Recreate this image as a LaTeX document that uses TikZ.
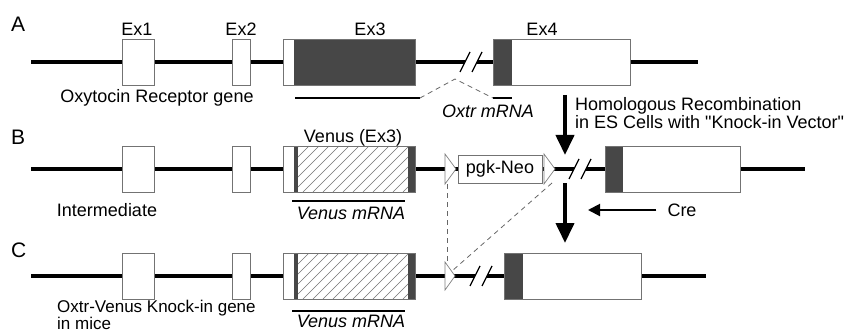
\documentclass[tikz,border=0pt]{standalone}
\usepackage{fontspec}
\setmainfont{Liberation Sans}
\newfontfamily\plainfont{Liberation Sans}
\usetikzlibrary{arrows.meta}

\begin{document}
\begin{tikzpicture}[x=1pt,y=-1pt,
    gene/.style={line width=4pt},
    exon/.style={draw=black!55, fill=white, line width=0.8pt, inner sep=0pt, minimum height=46pt},
    coding/.style={fill=black!72},
    dark/.style 2 args={path picture={
        \fill[coding] ([xshift=#1]path picture bounding box.north west) rectangle ([xshift=#2]path picture bounding box.south west);}},
    venus/.style={path picture={
        \fill[coding] ([xshift=11pt]path picture bounding box.north west) rectangle ([xshift=15pt]path picture bounding box.south west);
        \fill[coding] ([xshift=-7pt]path picture bounding box.north east) rectangle (path picture bounding box.south east);
        \begin{scope}
          \clip ([xshift=15pt]path picture bounding box.north west) rectangle ([xshift=-7pt]path picture bounding box.south east);
          \foreach \i in {0,...,16}
            \draw[line width=0.6pt] ([xshift={(\i*10-40)*1pt}]path picture bounding box.south west) -- ++(46,-46);
        \end{scope}}},
    mrna/.style={line width=1.3pt},
    splice/.style={draw=black!60, line width=0.8pt, dash pattern=on 5pt off 4pt},
    loxp/.style={draw=black!50, fill=white, line width=0.7pt},
    lbl/.style={font=\fontsize{18}{19}\selectfont, inner sep=0pt},
    itlbl/.style={font=\fontsize{18}{19}\selectfont\itshape, inner sep=0pt},
    tag/.style={font=\fontsize{21}{23}\selectfont, inner sep=0pt, anchor=west},
    bigarrow/.style={line width=4pt, -{Triangle[length=20pt,width=18pt]}},
    brk/.pic={
        \fill[white] (-11,10) -- (-1,-10) -- (11,-10) -- (1,10) -- cycle;
        \draw[line width=1.2pt] (-11,10) -- (-1,-10) (1,10) -- (11,-10);}
  ]
  \useasboundingbox (0,0) rectangle (862,334);

  % A: wild type
  \node[tag] (tA) at (11,24) {A};
  \coordinate (As) at (31,62);
  \coordinate (Ae) at (698,62);
  \draw[gene] (As) -- (Ae);
  \pic at (471,62) {brk};
  \node[exon, minimum width=32pt] (a1) at (138,62) {};
  \node[exon, minimum width=18pt] (a2) at (241,62) {};
  \node[exon, minimum width=132pt, dark={11pt}{132pt}] (a3) at (349,62) {};
  \node[exon, minimum width=137pt, dark={0pt}{19pt}] (a4) at (561.5,62) {};
  \node[lbl] at (137,29) {Ex1};
  \node[lbl] at (241,29) {Ex2};
  \node[lbl] at (370,29) {Ex3};
  \node[lbl] at (542,29) {Ex4};
  \node[lbl] (gA) at (157,98) {Oxytocin Receptor gene};

  \coordinate (m1) at (295,98);
  \coordinate (m2) at (420,98);
  \coordinate (m3) at (455,79);
  \coordinate (m4) at (493,98);
  \coordinate (m5) at (512,98);
  \draw[mrna] (m1) -- (m2);
  \draw[splice] (m2) -- (m3) -- (m4);
  \draw[mrna] (m4) -- (m5);
  \node[itlbl] at (488,111) {Oxtr mRNA};

  \coordinate (h1) at (565,95);
  \coordinate (h2) at (565,155);
  \draw[bigarrow] (h1) -- (h2);
  \node[lbl, anchor=west] at (575,106) {Homologous Recombination};
  \node[lbl, anchor=west] at (575,122) {in ES Cells with {\plainfont"}Knock-in Vector{\plainfont"}};

  % B: intermediate
  \node[tag] (tB) at (11,137) {B};
  \coordinate (Bs) at (31,169);
  \coordinate (Be) at (805,169);
  \draw[gene] (Bs) -- (Be);
  \pic at (580,169) {brk};
  \node[exon, minimum width=32pt] (b1) at (138,169) {};
  \node[exon, minimum width=18pt] (b2) at (241,169) {};
  \node[exon, minimum width=132pt, venus] (b3) at (349,169) {};
  \node[exon, minimum width=135pt, dark={0pt}{18pt}] (b4) at (672.5,169) {};
  \node[lbl] at (353,138) {Venus (Ex3)};
  \node[lbl] at (107,210) {Intermediate};
  \node[exon, minimum width=84pt, minimum height=28pt, font=\fontsize{18}{19}\selectfont] (neo) at (500,169) {pgk-Neo};
  \draw[loxp] (445,154) -- (456,169) -- (445,184) -- cycle;
  \draw[loxp] (544,154) -- (555,169) -- (544,184) -- cycle;
  \coordinate (v1) at (292,201);
  \coordinate (v2) at (405,201);
  \draw[mrna] (v1) -- (v2);
  \node[itlbl] at (351,213) {Venus mRNA};

  \coordinate (h3) at (565,183);
  \coordinate (h4) at (565,243);
  \draw[bigarrow] (h3) -- (h4);
  \node[lbl] (cre) at (682,210) {Cre};
  \coordinate (creend) at (588,210);
  \draw[line width=2pt, -{Triangle[length=12pt,width=12pt]}] ([xshift=-11pt]cre.west) -- (creend);

  % C: knock-in
  \node[tag] (tC) at (11,250) {C};
  \coordinate (Cs) at (31,276);
  \coordinate (Ce) at (706,276);
  \draw[gene] (Cs) -- (Ce);
  \pic at (481,276) {brk};
  \node[exon, minimum width=32pt] (c1) at (138,276) {};
  \node[exon, minimum width=18pt] (c2) at (241,276) {};
  \node[exon, minimum width=132pt, venus] (c3) at (349,276) {};
  \node[exon, minimum width=137pt, dark={0pt}{19pt}] (c4) at (572.5,276) {};
  \draw[loxp] (445,262) -- (455,276) -- (445,290) -- cycle;
  \coordinate (w1) at (292,311);
  \coordinate (w2) at (405,311);
  \draw[mrna] (w1) -- (w2);
  \node[itlbl] at (351,321) {Venus mRNA};
  \node[lbl, anchor=south west, align=left, font=\fontsize{17}{14}\selectfont] (gC) at (57,330) {Oxtr-Venus Knock-in gene\\in mice};

  % Cre excision
  \draw[splice] (447,184) -- (447,262);
  \draw[splice] (552,183) -- (452,271);
\end{tikzpicture}
\end{document}
